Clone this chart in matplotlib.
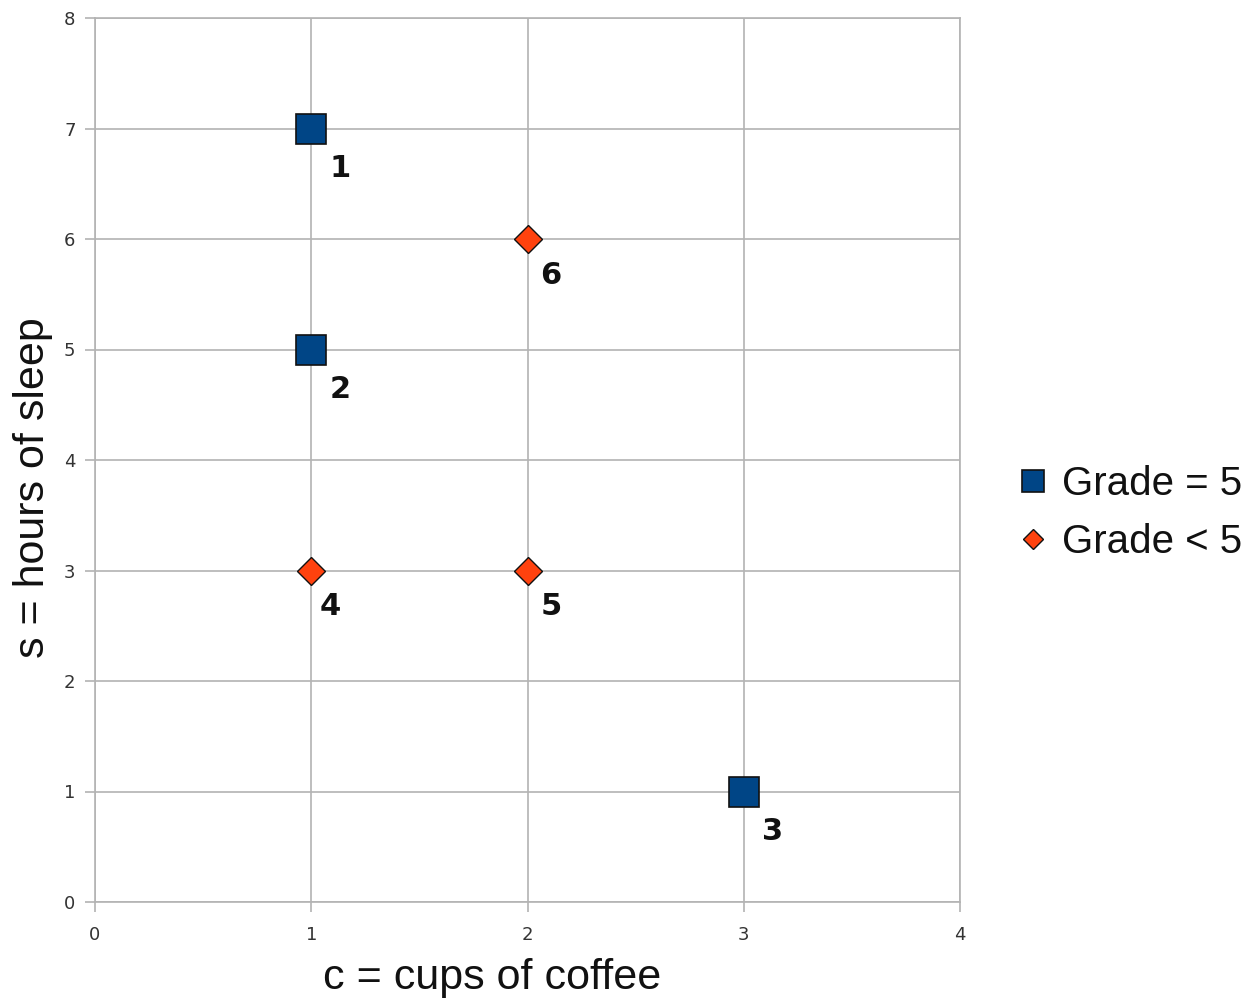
import matplotlib
matplotlib.use("Agg")
import matplotlib.pyplot as plt

# Data
grade5_c = [1, 1, 3]
grade5_s = [7, 5, 1]
grade5_ids = ["1", "2", "3"]
gradelt5_c = [1, 2, 2]
gradelt5_s = [3, 3, 6]
gradelt5_ids = ["4", "5", "6"]
xticks = [0, 1, 2, 3, 4]
yticks = [0, 1, 2, 3, 4, 5, 6, 7, 8]

fig = plt.figure(figsize=(12.59, 10.07), dpi=100)
ax = fig.add_axes([95/1259, 1 - 902/1007, (960-95)/1259, (902-18)/1007])

grid_c = "#b3b3b3"
ax.set_xlim(0, 4)
ax.set_ylim(0, 8)
ax.set_xticks(xticks)
ax.set_yticks(yticks)
ax.grid(True, color=grid_c, linewidth=1.2)
ax.set_axisbelow(True)
for sp in ax.spines.values():
    sp.set_color(grid_c)
    sp.set_linewidth(1.2)
ax.tick_params(axis="both", length=7, width=1.2, color=grid_c, labelsize=13,
               labelcolor="#333333", pad=7)
ax.tick_params(axis="x", pad=10)

ax.plot(grade5_c, grade5_s, linestyle="none", marker="s", markersize=22,
        markerfacecolor="#004586", markeredgecolor="#111111", markeredgewidth=1.2,
        label="Grade = 5", clip_on=False, zorder=3)
ax.plot(gradelt5_c, gradelt5_s, linestyle="none", marker="D", markersize=14,
        markerfacecolor="#ff420e", markeredgecolor="#111111", markeredgewidth=1.0,
        label="Grade < 5", clip_on=False, zorder=3)

for c, s, t in zip(grade5_c, grade5_s, grade5_ids):
    ax.annotate(t, (c, s), xytext=(21, -29), textcoords="offset points",
                ha="center", va="center", fontsize=22, fontweight="bold", color="#111111")
for c, s, t in zip(gradelt5_c, gradelt5_s, gradelt5_ids):
    off = (17, -26)
    if t == "4":
        off = (14, -26)
    ax.annotate(t, (c, s), xytext=off, textcoords="offset points",
                ha="center", va="center", fontsize=22, fontweight="bold", color="#111111")

ax.set_xlabel("c = cups of coffee", fontsize=31, family="Liberation Sans", color="#111111")
ax.xaxis.label.set_va("center")
ax.xaxis.set_label_coords((492-95)/865, -(978-902)/884)
ax.set_ylabel("s = hours of sleep", fontsize=31, family="Liberation Sans", color="#111111")
ax.yaxis.label.set_va("center")
ax.yaxis.set_label_coords((33-95)/865, (902-488)/884)

leg = fig.legend(loc="center left", bbox_to_anchor=(977/1259, 1 - 513/1007),
                 frameon=False, prop={"family": "Liberation Sans", "size": 29},
                 markerscale=0.70, handletextpad=0.2, labelspacing=0.5, handlelength=1.0)
for txt in leg.get_texts():
    txt.set_color("#111111")

fig.savefig("out.png", dpi=100)
